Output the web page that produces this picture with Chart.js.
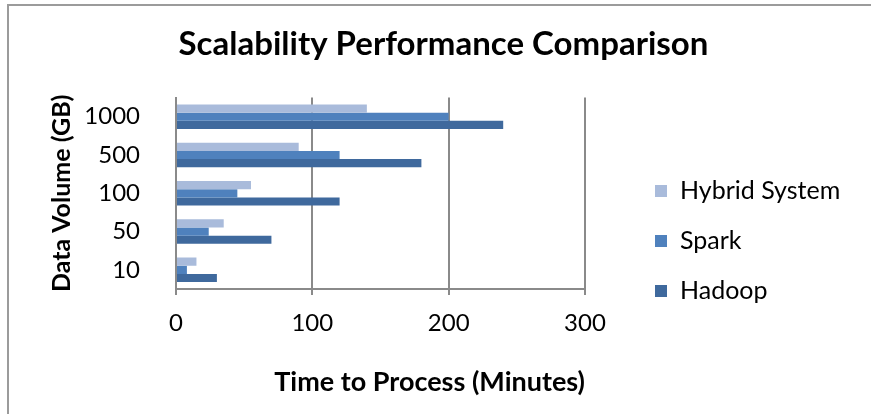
<!DOCTYPE html>
<html>
<head>
<meta charset="utf-8">
<script src="https://cdn.jsdelivr.net/npm/chart.js@4.4.0/dist/chart.umd.min.js"></script>
<style>
    html, body { margin: 0; padding: 0; background: #fff; }
    #frame { position: absolute; left: 7px; top: 4px; width: 900px; height: 450px; border: 2px solid #9b9b9b; }
    #wrap { position: absolute; left: 0; top: 0; width: 871px; height: 414px; }
</style>
</head>
<body>
<div id="frame"></div>
<div id="wrap"><canvas id="chart"></canvas></div>
<script>
// Data
const volumes = ['1000', '500', '100', '50', '10'];
const hybrid = [140, 90, 55, 35, 15];
const spark = [200, 120, 45, 24, 8];
const hadoop = [240, 180, 120, 70, 30];
const seriesNames = ['Hybrid System', 'Spark', 'Hadoop'];
const seriesColors = ['#a9bbdb', '#4f81bd', '#3f699d'];

const FONT = 'Lato, "Open Sans", sans-serif';

// Legend drawn on the right, from the chart's own datasets
const sideLegend = {
    id: 'sideLegend',
    afterDraw(chart) {
        const ctx = chart.ctx;
        ctx.save();
        ctx.font = '25px ' + FONT;
        ctx.textBaseline = 'middle';
        chart.data.datasets.forEach((ds, i) => {
            const y = 191 + i * 50;
            ctx.fillStyle = ds.backgroundColor;
            ctx.fillRect(655, y - 6, 12, 12);
            ctx.fillStyle = '#000';
            ctx.fillText(ds.label, 680, y);
        });
        ctx.restore();
    }
};

const ctx = document.getElementById('chart').getContext('2d');
new Chart(ctx, {
    type: 'bar',
    data: {
        labels: volumes,
        datasets: [hybrid, spark, hadoop].map((d, i) => ({
            label: seriesNames[i],
            data: d,
            backgroundColor: seriesColors[i],
            borderWidth: 0,
            categoryPercentage: 0.64,
            barPercentage: 1.0
        }))
    },
    options: {
        indexAxis: 'y',
        responsive: true,
        maintainAspectRatio: false,
        animation: false,
        layout: { padding: { left: 16, right: 0, top: 0, bottom: 0 } },
        plugins: {
            legend: { display: false },
            tooltip: { enabled: false },
            title: {
                display: true,
                text: 'Scalability Performance Comparison',
                color: '#000',
                font: { family: FONT, size: 33, weight: 'bold' },
                padding: { top: 25, bottom: 33 }
            }
        },
        scales: {
            x: {
                min: 0,
                max: 300,
                ticks: { stepSize: 100, color: '#000', font: { family: FONT, size: 24 }, padding: 14 },
                grid: { color: '#8a8a8a', lineWidth: 2, tickLength: 6 },
                border: { color: '#8a8a8a', width: 2 },
                title: {
                    display: true,
                    text: 'Time to Process (Minutes)',
                    align: 'end',
                    color: '#000',
                    font: { family: FONT, size: 27, weight: 'bold' },
                    padding: { top: 0, bottom: 16 }
                },
                afterFit(scale) { scale.height = 125; }
            },
            y: {
                ticks: { color: '#000', font: { family: FONT, size: 24 }, padding: 28 },
                grid: { display: false },
                border: { color: '#8a8a8a', width: 2 },
                title: {
                    display: true,
                    text: 'Data Volume (GB)',
                    color: '#000',
                    font: { family: FONT, size: 25, weight: 'bold' },
                    padding: { top: 31, bottom: 0 }
                },
                afterFit(scale) { scale.width = 160; }
            },
            // empty axis that keeps room on the right for the legend
            yPad: {
                type: 'linear',
                axis: 'y',
                position: 'right',
                grid: { display: false },
                ticks: { display: false },
                border: { display: false },
                afterFit(scale) { scale.width = 286; }
            }
        }
    },
    plugins: [sideLegend]
});
</script>
</body>
</html>
